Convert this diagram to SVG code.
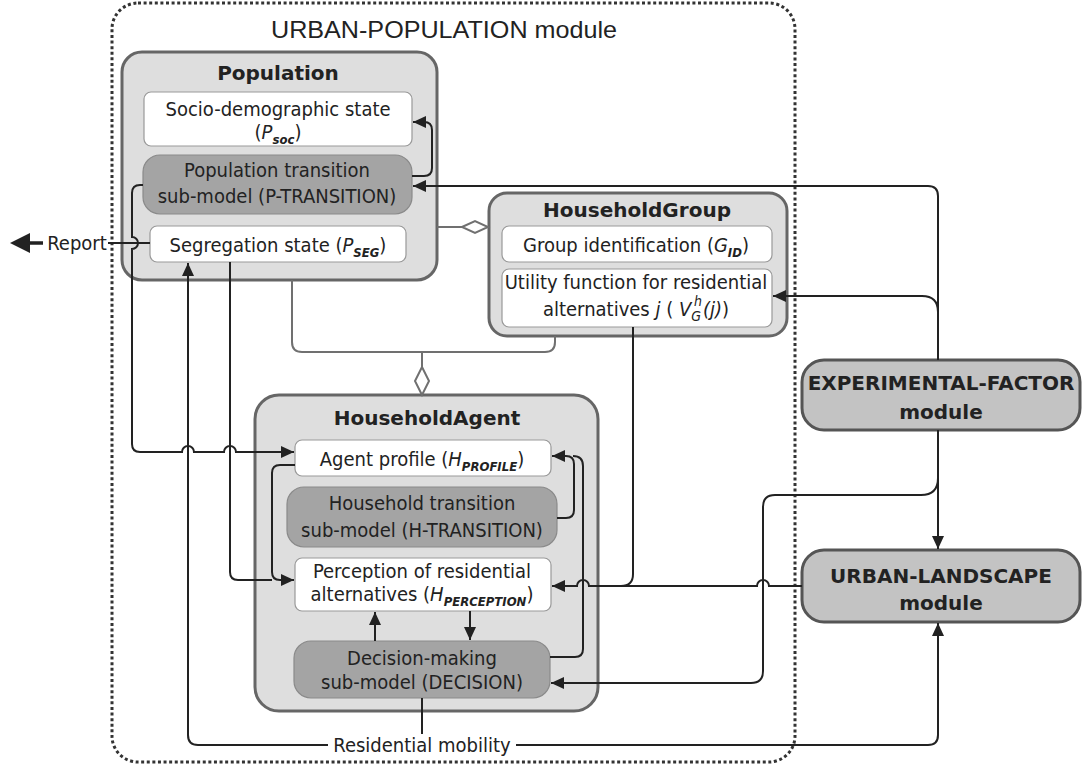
<svg xmlns="http://www.w3.org/2000/svg" width="1083" height="766" viewBox="0 0 1083 766">
<style>
.t{font-family:"DejaVu Sans Condensed","DejaVu Sans",sans-serif;font-stretch:condensed;font-size:20px;fill:#222}
.b{font-family:"DejaVu Sans",sans-serif;font-weight:bold;font-size:20px;fill:#222}
.i{font-style:italic}
.s{font-style:italic;font-weight:bold;font-size:13px}
.big{fill:#dedede;stroke:#666;stroke-width:3}
.mod{fill:#c3c3c3;stroke:#555;stroke-width:3}
.wb{fill:#fff;stroke:#999;stroke-width:1.2}
.db{fill:#a4a4a4;stroke:#8a8a8a;stroke-width:1.2}
.c{fill:none;stroke:#222;stroke-width:2}
.ag{fill:none;stroke:#707070;stroke-width:2}
.dm{fill:#fff;stroke:#707070;stroke-width:2}
</style>
<defs>
<marker id="ah" markerUnits="userSpaceOnUse" markerWidth="14" markerHeight="12" refX="13" refY="6" orient="auto">
<path d="M0,0 L13,6 L0,12 z" fill="#222"/>
</marker>
</defs>

<g id="urban-population">
<rect x="112" y="3" width="683" height="759" rx="26" fill="none" stroke="#333" stroke-width="3" stroke-dasharray="3 2.6"/>
<text x="444" y="38" text-anchor="middle" font-family="Liberation Sans, Arial, sans-serif" font-size="24" fill="#222" textLength="346" lengthAdjust="spacingAndGlyphs">URBAN-POPULATION module</text>
</g>

<g id="population">
<rect class="big" x="122" y="52" width="315" height="228" rx="20"/>
<text class="b" x="278" y="80" text-anchor="middle">Population</text>
<rect class="wb" x="144" y="92" width="268" height="54" rx="7"/>
<text class="t" x="278" y="116" text-anchor="middle">Socio-demographic state</text>
<text class="t" x="278" y="139" text-anchor="middle">(<tspan class="i">P</tspan><tspan class="s" dy="5">soc</tspan><tspan dy="-5">)</tspan></text>
<rect class="db" x="143" y="155" width="269" height="59" rx="17"/>
<text class="t" x="277" y="177" text-anchor="middle">Population transition</text>
<text class="t" x="277" y="203" text-anchor="middle">sub-model (P-TRANSITION)</text>
<rect class="wb" x="150" y="226" width="256" height="36" rx="7"/>
<text class="t" x="278" y="252" text-anchor="middle">Segregation state (<tspan class="i">P</tspan><tspan class="s" dy="5">SEG</tspan><tspan dy="-5">)</tspan></text>
</g>

<g id="householdgroup">
<rect class="big" x="489" y="193" width="298" height="143" rx="18"/>
<text class="b" x="637" y="217" text-anchor="middle">HouseholdGroup</text>
<rect class="wb" x="502" y="226" width="270" height="36" rx="7"/>
<text class="t" x="636" y="252" text-anchor="middle">Group identification (<tspan class="i">G</tspan><tspan class="s" dy="5">ID</tspan><tspan dy="-5">)</tspan></text>
<rect class="wb" x="502" y="269" width="270" height="58" rx="7"/>
<text class="t" x="636" y="289" text-anchor="middle">Utility function for residential</text>
<text class="t" x="636" y="316" text-anchor="middle">alternatives <tspan class="i">j</tspan> ( <tspan class="i">V</tspan><tspan class="i" font-size="14" dy="5">G</tspan><tspan class="i" font-size="14" dx="-7" dy="-15">h</tspan><tspan class="i" dx="1" dy="10">(j)</tspan>)</text>
</g>

<g id="householdagent">
<rect class="big" x="255" y="395" width="343" height="316" rx="24"/>
<text class="b" x="427" y="425" text-anchor="middle">HouseholdAgent</text>
<rect class="wb" x="295" y="440" width="256" height="36" rx="7"/>
<text class="t" x="422" y="466" text-anchor="middle">Agent profile (<tspan class="i">H</tspan><tspan class="s" font-size="12" dy="5">PROFILE</tspan><tspan dy="-5">)</tspan></text>
<rect class="db" x="287" y="487" width="270" height="60" rx="17"/>
<text class="t" x="422" y="510" text-anchor="middle">Household transition</text>
<text class="t" x="422" y="537" text-anchor="middle">sub-model (H-TRANSITION)</text>
<rect class="wb" x="295" y="558" width="256" height="53" rx="7"/>
<text class="t" x="422" y="578" text-anchor="middle">Perception of residential</text>
<text class="t" x="422" y="601" text-anchor="middle">alternatives (<tspan class="i">H</tspan><tspan class="s" font-size="12" dy="5">PERCEPTION</tspan><tspan dy="-5">)</tspan></text>
<rect class="db" x="294" y="641" width="256" height="57" rx="17"/>
<text class="t" x="422" y="665" text-anchor="middle">Decision-making</text>
<text class="t" x="422" y="689" text-anchor="middle">sub-model (DECISION)</text>
</g>

<g id="experimental-factor">
<rect class="mod" x="802" y="360" width="278" height="70" rx="22"/>
<text class="b" x="941" y="390" text-anchor="middle">EXPERIMENTAL-FACTOR</text>
<text class="b" x="941" y="419" text-anchor="middle">module</text>
</g>

<g id="urban-landscape">
<rect class="mod" x="802" y="550" width="278" height="72" rx="22"/>
<text class="b" x="941" y="583" text-anchor="middle">URBAN-LANDSCAPE</text>
<text class="b" x="941" y="610" text-anchor="middle">module</text>
</g>

<g id="report">
<text class="t" x="77" y="250" text-anchor="middle">Report</text>
<path d="M10,243 L30,233 L30,253 z" fill="#222"/>
<path d="M28,243 H43" stroke="#222" stroke-width="3.5"/>
</g>

<g id="residential-mobility">
<text class="t" x="422" y="752" text-anchor="middle">Residential mobility</text>
</g>

<g id="connectors">
<path class="ag" d="M437,227 H462"/>
<path class="dm" d="M462,227 L475,221 L488,227 L475,233 z"/>
<path class="ag" d="M292,280 V342 Q292,352 302,352 H545 Q555,352 555,342 V336"/>
<path class="ag" d="M422,352 V367"/>
<path class="dm" d="M422,367 L429,381 L422,395 L415,381 z"/>

<path class="c" d="M412,176 H424 Q432,176 432,168 V130 Q432,122 424,122 H413" marker-end="url(#ah)"/>
<path class="c" d="M150,243 H108" stroke-width="3"/>
<path class="c" d="M143,185 H140 Q132,185 132,193 V237 a6,6 0 0 1 0,12 V444 Q132,452 140,452 H182 a6,6 0 0 1 12,0 H224 a6,6 0 0 1 12,0 H294" marker-end="url(#ah)"/>
<path class="c" d="M328,745 H198 Q188,745 188,735 V263" marker-end="url(#ah)"/>
<path class="c" d="M516,745 H928 Q938,745 938,735 V623" marker-end="url(#ah)"/>
<path class="c" d="M422,698 V734"/>
<path class="c" d="M230,262 V572 Q230,580 238,580 H272"/>
<path class="c" d="M295,465 H280 Q272,465 272,473 V572 Q272,580 280,580 H294" marker-end="url(#ah)"/>
<path class="c" d="M557,518 H566 Q574,518 574,510 V464 Q574,456 566,456 H552" marker-end="url(#ah)"/>
<path class="c" d="M550,657 H575 Q583,657 583,649 V466 Q583,456 573,456"/>
<path class="c" d="M470,611 V640" marker-end="url(#ah)"/>
<path class="c" d="M375,641 V612" marker-end="url(#ah)"/>
<path class="c" d="M938,360 V196 Q938,186 928,186 H413" marker-end="url(#ah)"/>
<path class="c" d="M938,312 Q938,296 922,296 H773" marker-end="url(#ah)"/>
<path class="c" d="M938,430 V549" marker-end="url(#ah)"/>
<path class="c" d="M938,478 Q938,495 921,495 H775 Q763,495 763,507 V671 Q763,683 751,683 H551" marker-end="url(#ah)"/>
<path class="c" d="M802,586 H769 a6,6 0 0 0 -12,0 H589 a6,6 0 0 0 -12,0 H552" marker-end="url(#ah)"/>
<path class="c" d="M633,327 V574 Q633,586 621,586"/>
</g>
</svg>
